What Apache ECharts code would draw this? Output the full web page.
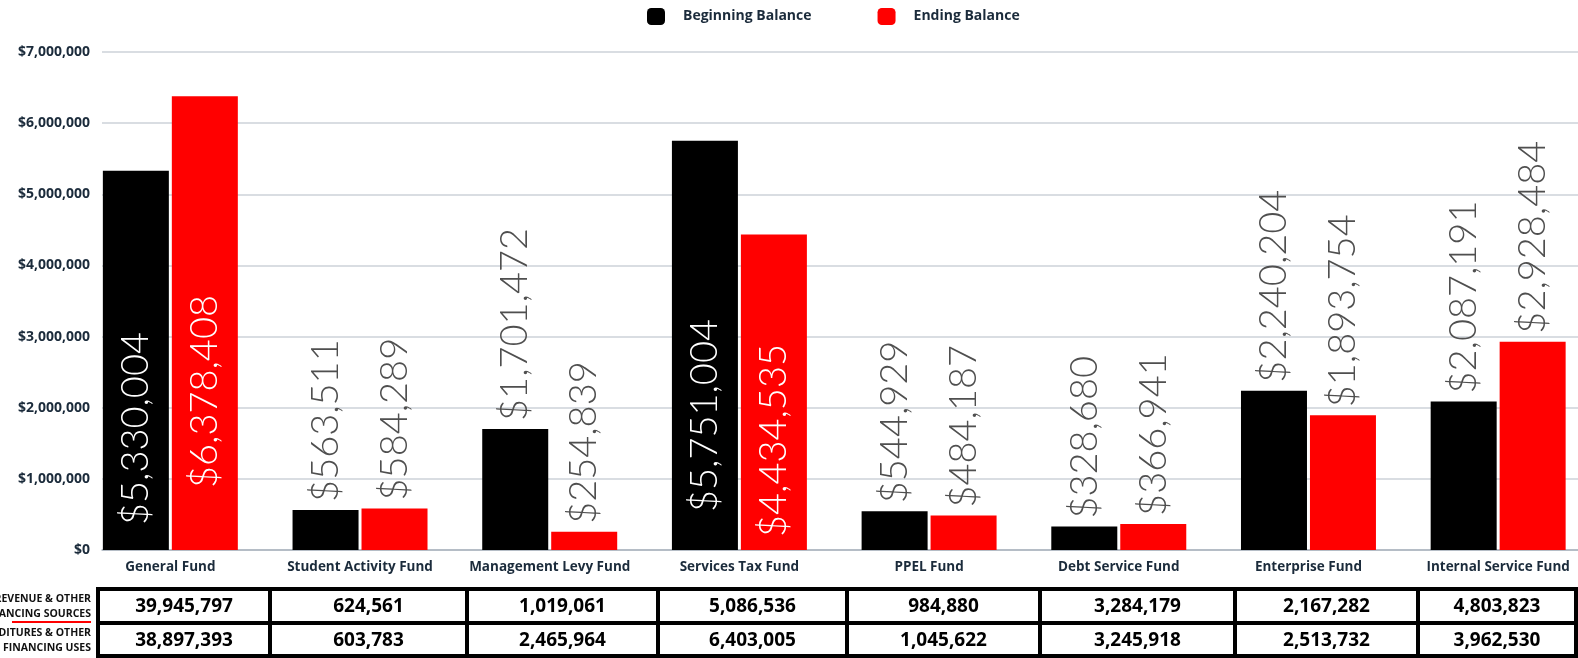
<!DOCTYPE html>
<html>
<head>
<meta charset="utf-8">
<script src="https://cdn.jsdelivr.net/npm/echarts@6/dist/echarts.min.js"></script>
<style>
  html, body { margin: 0; padding: 0; background: #fff; overflow: hidden; }
  /* the chart runs a little past the right edge of the window, like the source */
  #main { width: 1593px; height: 658px; }
</style>
</head>
<body>
<div id="main"></div>
<script>
// fund names on the x axis
var categories = ['General Fund', 'Student Activity Fund', 'Management Levy Fund', 'Services Tax Fund',
  'PPEL Fund', 'Debt Service Fund', 'Enterprise Fund', 'Internal Service Fund'];
// balances
var beginningBalance = [5330004, 563511, 1701472, 5751004, 544929, 328680, 2240204, 2087191];
var endingBalance = [6378408, 584289, 254839, 4434535, 484187, 366941, 1893754, 2928484];
// table rows under the chart
var rowLabels = ['REVENUE & OTHER\nFINANCING SOURCES', 'EXPENDITURES & OTHER\nFINANCING USES'];
var revenueSources = [39945797, 624561, 1019061, 5086536, 984880, 3284179, 2167282, 4803823];
var expenditureUses = [38897393, 603783, 2465964, 6403005, 1045622, 3245918, 2513732, 3962530];

var navy = '#1b2b3b';
var fontMain = '"Open Sans", Lato, sans-serif';

function money(v) {
  return '$' + v.toLocaleString('en-US');
}

// tall bars get their label inside (white), the others above the bar
var insideOffsets = { begin: { 0: 25, 3: 38 }, end: { 0: 62, 3: 13 } };

function labelled(values, key) {
  return values.map(function (v, i) {
    var off = insideOffsets[key][i];
    if (off !== undefined) {
      return {
        value: v,
        label: { position: 'insideBottom', distance: off, color: '#ffffff' }
      };
    }
    return v;
  });
}

var barLabel = {
  show: true,
  position: 'top',
  distance: 8,
  rotate: 90,
  align: 'left',
  verticalAlign: 'middle',
  fontFamily: 'Lato, "Open Sans", sans-serif',
  fontWeight: 300,
  fontSize: 38,
  color: '#4f4f4f',
  formatter: function (p) { return money(p.value); }
};

// table layout
var colEdges = [98, 270, 467, 658, 847, 1040, 1235, 1418, 1576];
var rowEdges = [589, 623, 656];
var tableGraphics = [];
tableGraphics.push({
  type: 'rect',
  shape: { x: colEdges[0], y: rowEdges[0], width: colEdges[8] - colEdges[0], height: rowEdges[2] - rowEdges[0] },
  style: { fill: 'none', stroke: '#000', lineWidth: 4 }
});
tableGraphics.push({
  type: 'line',
  shape: { x1: colEdges[0], y1: rowEdges[1], x2: colEdges[8], y2: rowEdges[1] },
  style: { stroke: '#000', lineWidth: 4 }
});
for (var c = 1; c < colEdges.length - 1; c++) {
  tableGraphics.push({
    type: 'line',
    shape: { x1: colEdges[c], y1: rowEdges[0], x2: colEdges[c], y2: rowEdges[2] },
    style: { stroke: '#000', lineWidth: 4 }
  });
}
[revenueSources, expenditureUses].forEach(function (row, r) {
  row.forEach(function (v, i) {
    tableGraphics.push({
      type: 'text',
      x: (colEdges[i] + colEdges[i + 1]) / 2,
      y: (rowEdges[r] + rowEdges[r + 1]) / 2 + 1,
      style: {
        text: v.toLocaleString('en-US'),
        fill: '#000',
        font: 'bold 19px ' + fontMain,
        textAlign: 'center',
        textVerticalAlign: 'middle'
      }
    });
  });
  tableGraphics.push({
    type: 'text',
    x: 91,
    y: (rowEdges[r] + rowEdges[r + 1]) / 2 + 1,
    style: {
      text: rowLabels[r],
      fill: '#111',
      font: 'bold 10.5px ' + fontMain,
      textAlign: 'right',
      textVerticalAlign: 'middle',
      lineHeight: 15
    }
  });
});
tableGraphics.push({
  type: 'line',
  shape: { x1: 12, y1: 622, x2: 91, y2: 622 },
  style: { stroke: '#ff0000', lineWidth: 2 }
});

var myChart = echarts.init(document.getElementById('main'));

var option = {
  animation: false,
  backgroundColor: '#ffffff',
  legend: {
    data: ['Beginning Balance', 'Ending Balance'],
    left: 642,
    top: 3,
    icon: 'roundRect',
    itemWidth: 18,
    itemHeight: 17,
    itemGap: 66,
    textStyle: { color: navy, fontFamily: fontMain, fontWeight: 'bold', fontSize: 14, padding: [0, 0, 0, 13] }
  },
  grid: [
    // grid used for the value axis / gridlines
    { left: 102, right: 15, top: 52, bottom: 108 },
    // grid used for the bars and the fund names
    { left: 75.5, right: 0, top: 52, bottom: 108 }
  ],
  xAxis: [
    {
      gridIndex: 0, type: 'category', data: [''],
      axisLine: { lineStyle: { color: '#a9b3bd', width: 1.5 } },
      axisTick: { show: false }, axisLabel: { show: false }
    },
    {
      gridIndex: 1, type: 'category', data: categories,
      axisLine: { show: false }, axisTick: { show: false },
      axisLabel: { color: navy, fontFamily: fontMain, fontWeight: 'bold', fontSize: 13.5, margin: 10, interval: 0 }
    }
  ],
  yAxis: [
    {
      gridIndex: 0, type: 'value', min: 0, max: 7000000, interval: 1000000,
      axisLine: { show: false }, axisTick: { show: false },
      splitLine: { lineStyle: { color: '#cdd2d8', width: 1.5 } },
      axisLabel: {
        color: navy, fontFamily: fontMain, fontWeight: 'bold', fontSize: 14, margin: 12,
        formatter: function (v) { return money(v); }
      }
    },
    {
      gridIndex: 1, type: 'value', min: 0, max: 7000000, interval: 1000000,
      show: false, splitLine: { show: false }
    }
  ],
  series: [
    {
      name: 'Beginning Balance', type: 'bar', xAxisIndex: 1, yAxisIndex: 1,
      data: labelled(beginningBalance, 'begin'),
      barWidth: 66, barGap: '4.5%',
      itemStyle: { color: '#000000' },
      label: barLabel
    },
    {
      name: 'Ending Balance', type: 'bar', xAxisIndex: 1, yAxisIndex: 1,
      data: labelled(endingBalance, 'end'),
      barWidth: 66, barGap: '4.5%',
      itemStyle: { color: '#ff0000' },
      label: barLabel
    }
  ],
  graphic: tableGraphics
};

myChart.setOption(option);
</script>
</body>
</html>
